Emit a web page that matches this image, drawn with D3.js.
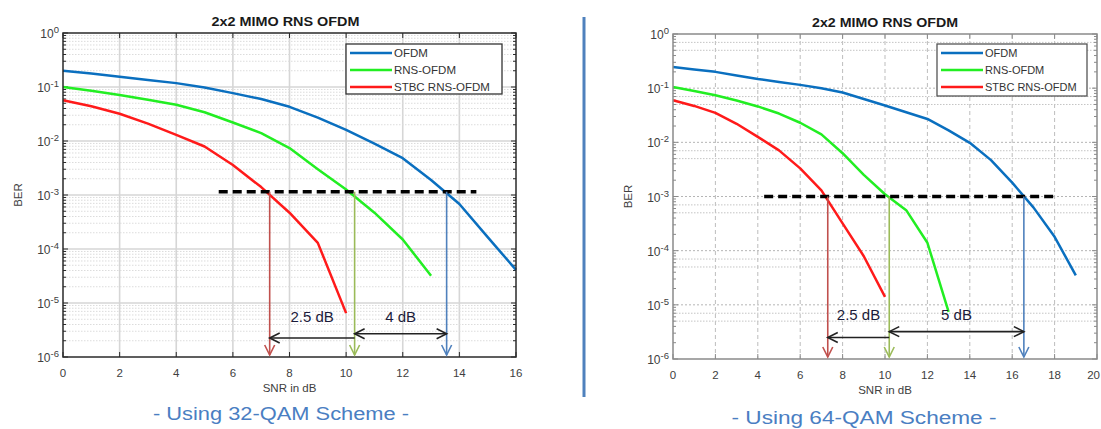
<!DOCTYPE html>
<html>
<head>
<meta charset="utf-8">
<script src="https://cdn.jsdelivr.net/npm/d3@7/dist/d3.min.js"></script>
<style>
  html, body { margin: 0; padding: 0; background: #fff; }
  svg { display: block; }
  text { font-family: Arial, "Liberation Sans", sans-serif; }
</style>
</head>
<body>
<svg id="chart" width="1101" height="429"></svg>
<script>
// ---------------- DATA ----------------
const chartTitle = "2x2 MIMO RNS OFDM";
const seriesNames = ["OFDM", "RNS-OFDM", "STBC RNS-OFDM"];
const xLabel = "SNR in dB";
const yLabel = "BER";
const yTickExps = [0, -1, -2, -3, -4, -5, -6];

// 32-QAM panel
const snr32 = [0,1,2,3,4,5,6,7,8,9,10,11,12,13,14,15,16];
const ofdm32 = [0.2,0.178,0.155,0.135,0.118,0.098,0.077,0.060,0.043,0.027,0.016,0.0089,0.0048,0.0019,6.8e-4,1.66e-4,4.1e-5];
const rns32  = [0.1,0.085,0.071,0.058,0.047,0.034,0.022,0.014,0.0074,0.003,0.00126,4.7e-4,1.5e-4,3.2e-5];
const stbc32 = [0.057,0.044,0.032,0.021,0.013,0.0079,0.0036,0.0014,4.7e-4,1.3e-4,6.5e-6];
const xTicks32 = [0,2,4,6,8,10,12,14,16];
const refBer32 = 1.15e-3;
const refRange32 = [5.5, 14.6];
const arrowSnr32 = [7.3, 10.3, 13.55];
const gapLabels32 = ["2.5 dB", "4 dB"];
const caption32 = "- Using 32-QAM Scheme -";

// 64-QAM panel
const snr64 = [0,1,2,3,4,5,6,7,8,9,10,11,12,13,14,15,16,17,18,19];
const ofdm64 = [0.245,0.221,0.2,0.172,0.148,0.130,0.115,0.1,0.083,0.063,0.048,0.036,0.027,0.0166,0.0098,0.0047,0.0018,6.3e-4,1.8e-4,3.5e-5];
const rns64  = [0.105,0.089,0.074,0.059,0.046,0.034,0.023,0.014,0.0063,0.0025,0.0011,5.6e-4,1.4e-4,7.4e-6];
const stbc64 = [0.06,0.047,0.035,0.022,0.0126,0.0071,0.0033,0.0013,3.2e-4,7.9e-5,1.4e-5];
const xTicks64 = [0,2,4,6,8,10,12,14,16,18,20];
const refBer64 = 1e-3;
const refRange64 = [4.3, 18];
const arrowSnr64 = [7.3, 10.2, 16.55];
const gapLabels64 = ["2.5 dB", "5 dB"];
const caption64 = "- Using 64-QAM Scheme -";

// ---------------- STYLE ----------------
const lineColors = ["#0a6fbf", "#22ee22", "#ff1a1a"];
const arrowColors = ["#c0504d", "#9bbb59", "#4f81bd"];
const W = 1101;

const svg = d3.select("#chart");

function drawPanel(cfg) {
  const x = d3.scaleLinear().domain([0, cfg.xmax]).range([cfg.x0, cfg.x1]);
  const y = d3.scaleLog().domain([1e-6, 1]).range([cfg.y1, cfg.y0]);
  const g = svg.append("g");

  // grid
  const grid = g.append("g");
  cfg.xTicks.slice(1, -1).forEach(v => {
    grid.append("line").attr("x1", x(v)).attr("x2", x(v)).attr("y1", cfg.y0).attr("y2", cfg.y1)
      .attr("stroke", cfg.gridMajor).attr("stroke-width", cfg.majorW).attr("stroke-dasharray", cfg.majorDash);
  });
  yTickExps.slice(1, -1).forEach(e => {
    grid.append("line").attr("x1", cfg.x0).attr("x2", cfg.x1).attr("y1", y(Math.pow(10, e))).attr("y2", y(Math.pow(10, e)))
      .attr("stroke", cfg.gridMajorH).attr("stroke-width", cfg.majorWH).attr("stroke-dasharray", cfg.majorDashH);
  });
  for (let e = -6; e < 0; e++) {
    cfg.minorMult.forEach(k => {
      const v = k * Math.pow(10, e);
      grid.append("line").attr("x1", cfg.x0).attr("x2", cfg.x1).attr("y1", y(v)).attr("y2", y(v))
        .attr("stroke", cfg.gridMinor).attr("stroke-width", 1).attr("stroke-dasharray", "1.5,1.5");
    });
  }

  // ticks
  const tk = g.append("g").attr("stroke", cfg.axisColor).attr("stroke-width", 1);
  cfg.xTicks.forEach(v => {
    tk.append("line").attr("x1", x(v)).attr("x2", x(v)).attr("y1", cfg.y1).attr("y2", cfg.y1 - 5);
    tk.append("line").attr("x1", x(v)).attr("x2", x(v)).attr("y1", cfg.y0).attr("y2", cfg.y0 + 5);
  });
  for (let e = -6; e <= 0; e++) {
    for (let k = 1; k <= 9; k++) {
      const v = k * Math.pow(10, e);
      if (v > 1) break;
      const len = k === 1 ? 5 : 3;
      tk.append("line").attr("x1", cfg.x0).attr("x2", cfg.x0 + len).attr("y1", y(v)).attr("y2", y(v));
      tk.append("line").attr("x1", cfg.x1).attr("x2", cfg.x1 - len).attr("y1", y(v)).attr("y2", y(v));
    }
  }

  // tick labels
  cfg.xTicks.forEach(v => {
    const overflow = x(v) + 8 > W;
    g.append("text").attr("x", overflow ? W - 1 : x(v)).attr("y", cfg.y1 + 20)
      .attr("text-anchor", overflow ? "end" : "middle")
      .attr("font-size", 11.5).attr("fill", "#404040").text(v);
  });
  yTickExps.forEach(e => {
    const t = g.append("text").attr("x", cfg.x0 - 4).attr("y", y(Math.pow(10, e)) + 5)
      .attr("text-anchor", "end").attr("font-size", 12).attr("fill", "#404040");
    t.append("tspan").text("10");
    t.append("tspan").attr("dy", -5).attr("font-size", 9.5).text(e);
  });

  // axis labels
  g.append("text").attr("x", (cfg.x0 + cfg.x1) / 2).attr("y", cfg.y1 + 35).attr("text-anchor", "middle")
    .attr("font-size", 11.5).attr("fill", "#404040").text(xLabel);
  g.append("text").attr("transform", `translate(${cfg.x0 - 41},${(cfg.y0 + cfg.y1) / 2}) rotate(-90)`)
    .attr("text-anchor", "middle").attr("font-size", 11.5).attr("fill", "#404040").text(yLabel);
  g.append("text").attr("x", (cfg.x0 + cfg.x1) / 2 + cfg.titleDx).attr("y", cfg.y0 - 7).attr("text-anchor", "middle")
    .attr("font-size", 12).attr("font-weight", "bold").attr("fill", "#1a1a1a")
    .attr("textLength", cfg.titleLen).attr("lengthAdjust", "spacingAndGlyphs").text(chartTitle);

  // series
  const line = d3.line().x(d => x(d[0])).y(d => y(d[1]));
  cfg.series.forEach((vals, i) => {
    const pts = vals.map((v, j) => [cfg.snr[j], v]);
    g.append("path").datum(pts).attr("d", line).attr("fill", "none")
      .attr("stroke", lineColors[i]).attr("stroke-width", 2.5).attr("stroke-linejoin", "round");
  });

  // box
  g.append("rect").attr("x", cfg.x0).attr("y", cfg.y0).attr("width", cfg.x1 - cfg.x0).attr("height", cfg.y1 - cfg.y0)
    .attr("fill", "none").attr("stroke", cfg.axisColor).attr("stroke-width", cfg.boxW);

  // reference dashed line
  g.append("line").attr("x1", x(cfg.refRange[0])).attr("x2", x(cfg.refRange[1]))
    .attr("y1", y(cfg.refBer)).attr("y2", y(cfg.refBer))
    .attr("stroke", "#000").attr("stroke-width", 3.5).attr("stroke-dasharray", "9,5");

  // vertical arrows (red, green, blue)
  const yEnd = cfg.y1 - 2;
  cfg.arrows.forEach((s, i) => {
    const ax = x(s);
    const a = g.append("g").attr("stroke", arrowColors[i]).attr("stroke-width", 1.6).attr("fill", "none");
    a.append("line").attr("x1", ax).attr("x2", ax).attr("y1", y(cfg.refBer)).attr("y2", yEnd);
    a.append("path").attr("d", `M${ax - 5},${yEnd - 10}L${ax},${yEnd}L${ax + 5},${yEnd - 10}`);
  });

  // horizontal gap arrows
  const h = g.append("g").attr("stroke", "#222").attr("stroke-width", 1.6).attr("fill", "none");
  const ya = y(cfg.gapY[0]), yb = y(cfg.gapY[1]);
  const xa = x(cfg.arrows[0]), xb = x(cfg.arrows[1]), xc = x(cfg.arrows[2]);
  h.append("line").attr("x1", xa).attr("x2", xb).attr("y1", ya).attr("y2", ya);
  h.append("path").attr("d", `M${xa + 10},${ya - 5}L${xa},${ya}L${xa + 10},${ya + 5}`);
  h.append("line").attr("x1", xb).attr("x2", xc).attr("y1", yb).attr("y2", yb);
  h.append("path").attr("d", `M${xb + 10},${yb - 5}L${xb},${yb}L${xb + 10},${yb + 5}`);
  h.append("path").attr("d", `M${xc - 10},${yb - 5}L${xc},${yb}L${xc - 10},${yb + 5}`);

  g.append("text").attr("x", (xa + xb) / 2).attr("y", y(cfg.labelY)).attr("text-anchor", "middle")
    .attr("font-family", "'Open Sans', sans-serif").attr("font-size", 15).attr("fill", "#1b1b3a").text(cfg.gapLabels[0]);
  g.append("text").attr("x", (xb + xc) / 2).attr("y", y(cfg.labelY)).attr("text-anchor", "middle")
    .attr("font-family", "'Open Sans', sans-serif").attr("font-size", 15).attr("fill", "#1b1b3a").text(cfg.gapLabels[1]);

  // legend
  const lg = g.append("g");
  lg.append("rect").attr("x", cfg.legend.x).attr("y", cfg.legend.y).attr("width", cfg.legend.w).attr("height", cfg.legend.h)
    .attr("fill", "#fff").attr("stroke", cfg.legendStroke).attr("stroke-width", 1.3);
  seriesNames.forEach((n, i) => {
    const ly = cfg.legend.y + 9 + i * 17;
    lg.append("line").attr("x1", cfg.legend.x + 4).attr("x2", cfg.legend.x + cfg.legend.sw).attr("y1", ly).attr("y2", ly)
      .attr("stroke", lineColors[i]).attr("stroke-width", 2.5);
    lg.append("text").attr("x", cfg.legend.x + cfg.legend.sw + 2).attr("y", ly + 4).attr("font-size", cfg.legend.fs)
      .attr("fill", "#333").text(n);
  });

  // caption
  svg.append("text").attr("x", cfg.capX).attr("y", cfg.capY).attr("text-anchor", "middle")
    .attr("font-family", "'Open Sans', sans-serif").attr("font-size", 18).attr("fill", "#4a7ec2")
    .attr("textLength", cfg.capLen).attr("lengthAdjust", "spacingAndGlyphs").text(cfg.caption);
}

drawPanel({
  x0: 63, x1: 516, y0: 33, y1: 357, xmax: 16, xTicks: xTicks32,
  snr: snr32, series: [ofdm32, rns32, stbc32],
  gridMajor: "#d6d6d6", majorW: 1.6, majorDash: null,
  gridMajorH: "#d6d6d6", majorWH: 1.6, majorDashH: null,
  gridMinor: "#dcdcdc", minorMult: [2,3,4,5,6,7,8,9],
  axisColor: "#2a2a2a", boxW: 1.5,
  titleDx: -4, titleLen: 148,
  refBer: refBer32, refRange: refRange32, arrows: arrowSnr32,
  gapY: [2.25e-6, 2.7e-6], labelY: 4.5e-6, gapLabels: gapLabels32,
  legend: {x: 346, y: 44, w: 156, h: 50, sw: 46, fs: 11.5}, legendStroke: "#333",
  caption: caption32, capX: 281, capY: 420, capLen: 256
});

drawPanel({
  x0: 673, x1: 1097, y0: 34, y1: 359, xmax: 20, xTicks: xTicks64,
  snr: snr64, series: [ofdm64, rns64, stbc64],
  gridMajor: "#bdbdbd", majorW: 1, majorDash: "4,3",
  gridMajorH: "#b5b5b5", majorWH: 1, majorDashH: "2,2",
  gridMinor: "#c4c4c4", minorMult: [5,7],
  axisColor: "#8a8a8a", boxW: 1.5,
  titleDx: 0, titleLen: 146,
  refBer: refBer64, refRange: refRange64, arrows: arrowSnr64,
  gapY: [2.5e-6, 3.2e-6], labelY: 5.3e-6, gapLabels: gapLabels64,
  legend: {x: 937, y: 44, w: 150, h: 52, sw: 46, fs: 11}, legendStroke: "#555",
  caption: caption64, capX: 864, capY: 424, capLen: 265
});

// separator
svg.append("line").attr("x1", 584).attr("x2", 584).attr("y1", 17).attr("y2", 397)
  .attr("stroke", "#4f81bd").attr("stroke-width", 3);
</script>
</body>
</html>
